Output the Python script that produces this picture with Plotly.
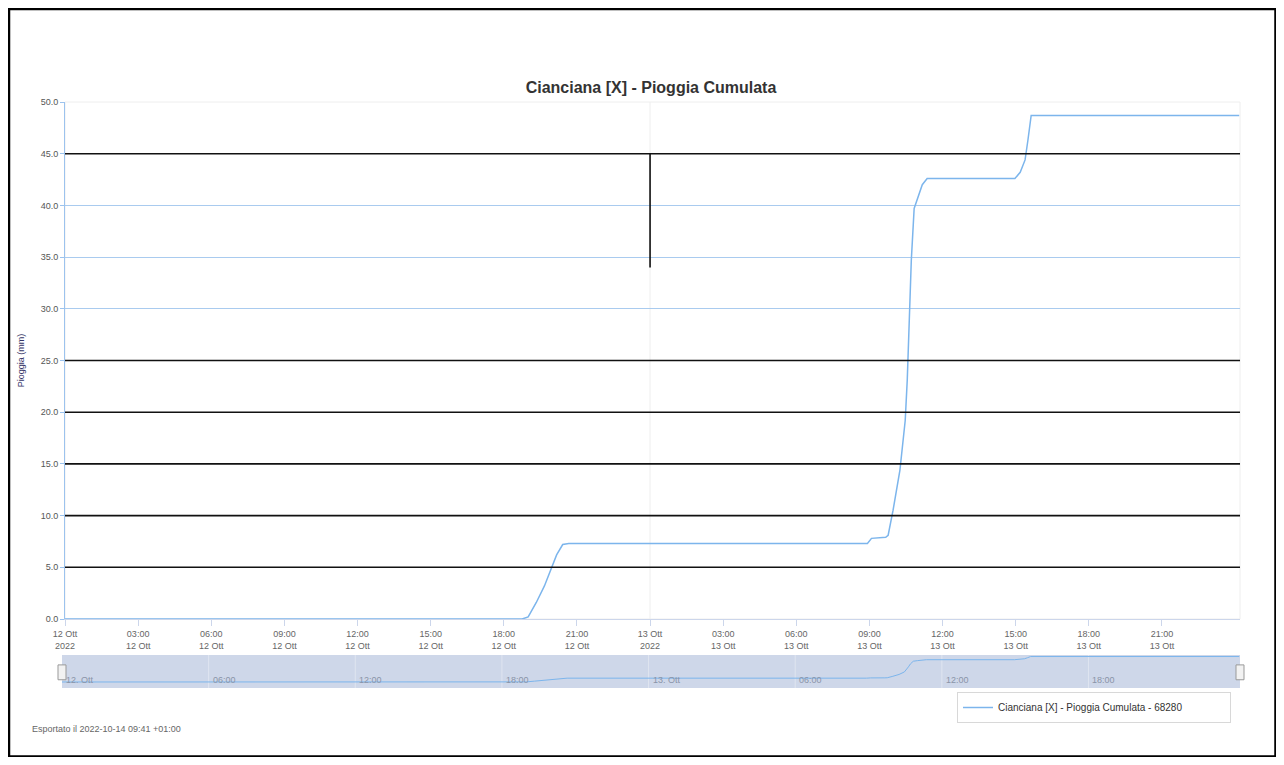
import plotly.graph_objects as go

# Cumulated rain, Cianciana [X] station (mm)
TIMES = [
    "2022-10-12 00:00", "2022-10-12 18:45", "2022-10-12 19:00", "2022-10-12 19:20",
    "2022-10-12 19:40", "2022-10-12 19:55", "2022-10-12 20:10", "2022-10-12 20:25",
    "2022-10-12 20:40", "2022-10-13 08:55", "2022-10-13 09:05", "2022-10-13 09:40",
    "2022-10-13 09:46", "2022-10-13 09:58", "2022-10-13 10:15", "2022-10-13 10:28",
    "2022-10-13 10:33", "2022-10-13 10:38", "2022-10-13 10:43", "2022-10-13 10:50",
    "2022-10-13 11:00", "2022-10-13 11:10", "2022-10-13 11:22", "2022-10-13 14:58",
    "2022-10-13 15:11", "2022-10-13 15:23", "2022-10-13 15:30", "2022-10-13 15:38",
    "2022-10-14 00:10",
]
RAIN = [
    0.0, 0.0, 0.2, 1.6,
    3.2, 4.8, 6.2, 7.2,
    7.3, 7.3, 7.8, 7.9,
    8.1, 10.5, 14.4, 19.2,
    23.1, 28.9, 34.7, 39.7,
    40.8, 42.0, 42.6, 42.6,
    43.2, 44.4, 46.3, 48.7,
    48.7,
]

X_RANGE = ["2022-10-12 00:00", "2022-10-14 00:12"]
Y_TICKS = [0, 5, 10, 15, 20, 25, 30, 35, 40, 45, 50]

TICK_VALS = [
    "2022-10-12 00:00", "2022-10-12 03:00", "2022-10-12 06:00", "2022-10-12 09:00",
    "2022-10-12 12:00", "2022-10-12 15:00", "2022-10-12 18:00", "2022-10-12 21:00",
    "2022-10-13 00:00", "2022-10-13 03:00", "2022-10-13 06:00", "2022-10-13 09:00",
    "2022-10-13 12:00", "2022-10-13 15:00", "2022-10-13 18:00", "2022-10-13 21:00",
]
TICK_TEXT = [
    "12 Ott<br>2022", "03:00<br>12 Ott", "06:00<br>12 Ott", "09:00<br>12 Ott",
    "12:00<br>12 Ott", "15:00<br>12 Ott", "18:00<br>12 Ott", "21:00<br>12 Ott",
    "13 Ott<br>2022", "03:00<br>13 Ott", "06:00<br>13 Ott", "09:00<br>13 Ott",
    "12:00<br>13 Ott", "15:00<br>13 Ott", "18:00<br>13 Ott", "21:00<br>13 Ott",
]

NAV_TICK_VALS = [
    "2022-10-12 00:00", "2022-10-12 06:00", "2022-10-12 12:00", "2022-10-12 18:00",
    "2022-10-13 00:00", "2022-10-13 06:00", "2022-10-13 12:00", "2022-10-13 18:00",
]
NAV_TICK_TEXT = ["12. Ott", "06:00", "12:00", "18:00", "13. Ott", "06:00", "12:00", "18:00"]

# dark horizontal lines visible in the exported image
DARK_LINES = [5, 10, 15, 20, 25, 45]
DARK_SEGMENT = ("2022-10-13 00:00", 34.0, 45.0)

LINE_COLOR = "#7cb5ec"
FONT = "Liberation Sans, Arial, sans-serif"

# the page body adds an 8px offset, so the figure is drawn 16px smaller
OFF = 8
W, H = 1284 - 2 * OFF, 765 - 2 * OFF


def px(sx):
    return (sx - OFF) / W


def py(sy):
    return (OFF + H - sy) / H


fig = go.Figure()

fig.add_trace(go.Scatter(
    x=TIMES, y=RAIN, mode="lines",
    line=dict(color=LINE_COLOR, width=1.5),
    name="Cianciana [X] - Pioggia Cumulata - 68280",
    xaxis="x", yaxis="y",
))

# navigator mini-series
fig.add_trace(go.Scatter(
    x=TIMES, y=RAIN, mode="lines",
    line=dict(color=LINE_COLOR, width=1),
    showlegend=False, hoverinfo="skip",
    xaxis="x2", yaxis="y2",
))

shapes = []
# navigator background
shapes.append(dict(type="rect", xref="x2 domain", yref="y2 domain", x0=0, x1=1, y0=0, y1=1,
                   fillcolor="#ced7e9", line=dict(width=0), layer="below"))
for t in NAV_TICK_VALS[1:]:
    shapes.append(dict(type="line", xref="x2", yref="y2 domain", x0=t, x1=t, y0=0, y1=1,
                       line=dict(color="#dfe5f0", width=1), layer="below"))
# navigator handles
for xa in (0, 1):
    shapes.append(dict(type="rect", xref="x2 domain", yref="y2 domain", xanchor=xa,
                       xsizemode="pixel", x0=-4, x1=4, y0=0.25, y1=0.7,
                       fillcolor="#f2f2f2", line=dict(color="#999999", width=1)))
# plot frame
shapes.append(dict(type="rect", xref="x domain", yref="y domain", x0=0, x1=1, y0=0, y1=1,
                   line=dict(color="#eeeeee", width=1), layer="below"))
shapes.append(dict(type="line", xref="x", yref="y domain", x0="2022-10-13 00:00",
                   x1="2022-10-13 00:00", y0=0, y1=1,
                   line=dict(color="#eeeeee", width=1), layer="below"))
for v in DARK_LINES:
    shapes.append(dict(type="line", xref="x domain", yref="y", x0=0, x1=1, y0=v, y1=v,
                       line=dict(color="#111111", width=1.6)))
shapes.append(dict(type="line", xref="x", yref="y", x0=DARK_SEGMENT[0], x1=DARK_SEGMENT[0],
                   y0=DARK_SEGMENT[1], y1=DARK_SEGMENT[2], line=dict(color="#111111", width=1.6)))
# page border
shapes.append(dict(type="rect", xref="paper", yref="paper", x0=px(9), x1=px(1275.5), y0=py(756.5),
                   y1=py(9), line=dict(color="#000000", width=2.5)))

annotations = [
    dict(x=t, y=0, xref="x2", yref="y2 domain", text=lbl, showarrow=False,
         xanchor="left", yanchor="bottom", xshift=2, yshift=1,
         font=dict(size=9, color="#8a94a8"))
    for t, lbl in zip(NAV_TICK_VALS, NAV_TICK_TEXT)
]
annotations.append(dict(x=px(30), y=py(729), xref="paper", yref="paper",
                        text="Esportato il 2022-10-14 09:41 +01:00", showarrow=False,
                        xanchor="left", yanchor="middle", font=dict(size=9, color="#666666")))

fig.update_layout(
    width=W, height=H,
    margin=dict(l=0, r=0, t=0, b=0),
    paper_bgcolor="white", plot_bgcolor="white",
    font=dict(family=FONT, color="#666666"),
    title=dict(text="<b>Cianciana [X] - Pioggia Cumulata</b>", x=px(651), xanchor="center",
               y=py(87), yanchor="middle", font=dict(size=16, color="#333333")),
    xaxis=dict(
        domain=[px(65), px(1240)], type="date", range=X_RANGE,
        tickvals=TICK_VALS, ticktext=TICK_TEXT, tickfont=dict(size=9, color="#666666"),
        showgrid=False, zeroline=False, showline=True, linecolor="#ccd6eb",
        ticks="outside", ticklen=6, tickcolor="#ccd6eb", anchor="y", automargin=False,
    ),
    yaxis=dict(
        domain=[py(619), py(102)], range=[0, 50], tickvals=Y_TICKS,
        ticktext=[f"{v:.1f}" for v in Y_TICKS], tickfont=dict(size=9, color="#555555"),
        showgrid=True, gridcolor="#a9cbef", gridwidth=1, zeroline=False,
        showline=True, linecolor="#9cc3ee", ticks="outside", ticklen=4, tickcolor="#9cc3ee",
        title=dict(text="Pioggia (mm)", font=dict(size=9, color="#333366"), standoff=14),
        anchor="x", automargin=False,
    ),
    xaxis2=dict(
        domain=[px(62), px(1240)], type="date", range=X_RANGE,
        showticklabels=False, showgrid=False, zeroline=False, showline=False,
        anchor="y2", fixedrange=True, automargin=False,
    ),
    yaxis2=dict(
        domain=[py(688), py(655)], range=[-11.5, 51.6],
        showticklabels=False, showgrid=False, zeroline=False, showline=False,
        anchor="x2", fixedrange=True, automargin=False,
    ),
    legend=dict(
        x=px(957), y=py(692), xanchor="left", yanchor="top", orientation="h",
        bordercolor="#d8d8d8", borderwidth=1, bgcolor="white",
        font=dict(size=10, color="#333333"), entrywidth=227, entrywidthmode="pixels",
        itemwidth=30,
    ),
    showlegend=True,
    shapes=shapes,
    annotations=annotations,
)

fig.write_html("out.html")
